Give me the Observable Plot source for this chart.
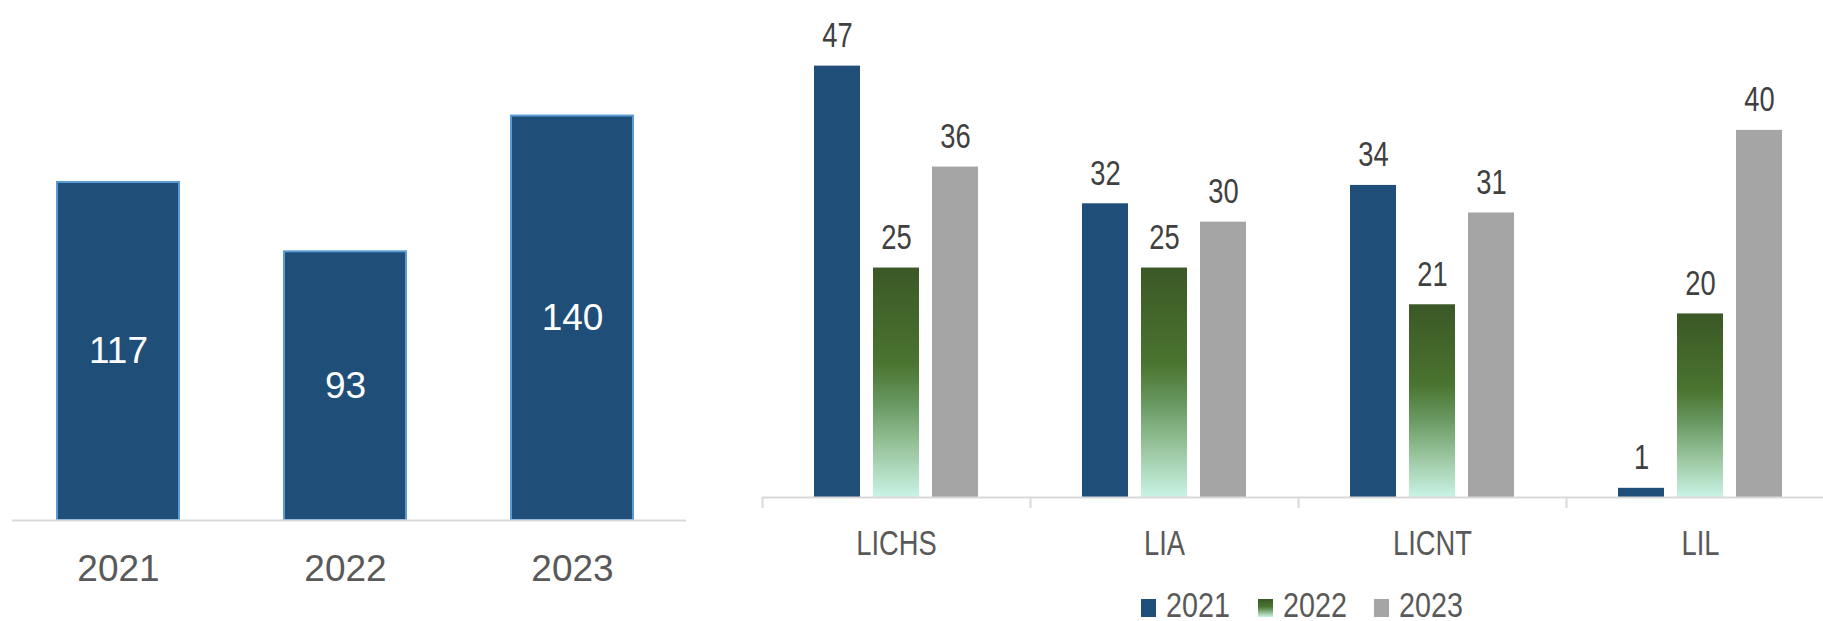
<!DOCTYPE html>
<html>
<head>
<meta charset="utf-8">
<script src="https://cdn.jsdelivr.net/npm/d3@7"></script>
<script src="https://cdn.jsdelivr.net/npm/@observablehq/plot@0.6"></script>
<style>
  html, body { margin: 0; padding: 0; background: #fff; }
  body { width: 1823px; height: 621px; overflow: hidden; position: relative; }
  svg { max-width: none !important; }
  #left { position: absolute; left: 0; top: 0; width: 700px; }
  #right { position: absolute; left: 740px; top: 0; width: 1110px; }
  #legend {
    position: absolute; left: 754px; top: 588px; width: 1096px;
    text-align: center; white-space: nowrap;
    font-family: "Liberation Sans", Arial, sans-serif;
    font-size: 35px; line-height: 33px; color: #595959;
  }
  #legend .item { display: inline-block; margin: 0 14px; }
  #legend .sw { display: inline-block; width: 15px; height: 18px; margin-right: 10px; vertical-align: baseline; }
  #legend .tx { display: inline-block; transform: scaleX(0.82); transform-origin: 0 50%; }
</style>
</head>
<body>
<div id="left"></div>
<div id="right"></div>
<div id="legend"></div>
<script>
// ---- data ----
const leftYears = ["2021", "2022", "2023"];
const leftTotals = [117, 93, 140];

const categories = ["LICHS", "LIA", "LICNT", "LIL"];
const seriesNames = ["2021", "2022", "2023"];
const values2021 = [47, 32, 34, 1];
const values2022 = [25, 25, 21, 20];
const values2023 = [36, 30, 31, 40];

const seriesFills = ["#1f4e79", "url(#grad2022)", "#a5a5a5"];
const legendSwatches = [
  "#1f4e79",
  "linear-gradient(#3b5826 0%, #4a7430 42%, #6a9a63 60%, #9dc8a2 80%, #c9f3e5 100%)",
  "#a5a5a5"
];

// ---- tables built from arrays ----
const leftData = leftYears.map((y, i) => ({year: y, value: leftTotals[i]}));
const seriesValues = [values2021, values2022, values2023];
const rightData = [];
categories.forEach((c, ci) => {
  seriesNames.forEach((s, si) => {
    rightData.push({category: c, series: s, value: seriesValues[si][ci], fill: seriesFills[si]});
  });
});

// ---- left chart ----
const leftChart = Plot.plot({
  width: 700, height: 600,
  marginTop: 0, marginLeft: 12, marginRight: 14, marginBottom: 80,
  x: {domain: leftYears, paddingInner: 0.463, paddingOuter: 0.2155, align: 0.463, label: null},
  y: {domain: [0, 180], axis: null},
  style: {fontFamily: "'Liberation Sans', Arial, sans-serif", color: "#595959", background: "transparent"},
  marks: [
    Plot.barY(leftData, {x: "year", y: "value", fill: "#1f4e79", stroke: "#5b9bd5", strokeWidth: 2}),
    Plot.text(leftData, {x: "year", y: d => d.value / 2, text: d => String(d.value), fill: "white", fontSize: 37, lineAnchor: "middle"}),
    Plot.ruleY([0], {stroke: "#d9d9d9", strokeWidth: 2}),
    Plot.axisX({tickSize: 0, tickPadding: 34, fontSize: 37, fill: "#595959", label: null})
  ]
});
document.getElementById("left").appendChild(leftChart);

// ---- right chart ----
const rW = 1110, rML = 22, rMR = 16;
const fxStep = (rW - rML - rMR) / categories.length;
const rightChart = Plot.plot({
  width: rW, height: 590,
  marginTop: 0, marginLeft: rML, marginRight: rMR, marginBottom: 93,
  fx: {domain: categories, padding: 0, label: null},
  x: {domain: seriesNames, paddingInner: 0.218, paddingOuter: 0.853, axis: null},
  y: {domain: [0, 54.15], axis: null},
  color: {type: "identity"},
  style: {fontFamily: "'Liberation Sans', Arial, sans-serif", color: "#595959", background: "transparent"},
  marks: [
    Plot.barY(rightData, {fx: "category", x: "series", y: "value", fill: "fill"}),
    Plot.text(rightData, {fx: "category", x: "series", y: "value", text: d => String(d.value), dy: -19, lineAnchor: "bottom", fontSize: 35, fill: "#404040"}),
    Plot.ruleY([0], {stroke: "#d9d9d9", strokeWidth: 2}),
    Plot.axisFx({anchor: "bottom", tickSize: 0, tickPadding: 33, fontSize: 35, fill: "#595959", label: null}),
    Plot.axisFx({anchor: "bottom", tickSize: 11, tickFormat: () => "", label: null, dx: -fxStep / 2, stroke: "#d9d9d9", strokeWidth: 2})
  ]
});
rightChart.insertAdjacentHTML("afterbegin",
  '<defs><linearGradient id="grad2022" x1="0" y1="0" x2="0" y2="1">' +
  '<stop offset="0" stop-color="#3b5826"/>' +
  '<stop offset="0.42" stop-color="#4a7430"/>' +
  '<stop offset="0.6" stop-color="#6a9a63"/>' +
  '<stop offset="0.8" stop-color="#9dc8a2"/>' +
  '<stop offset="1" stop-color="#c9f3e5"/>' +
  '</linearGradient></defs>');
document.getElementById("right").appendChild(rightChart);

// condensed look of the right chart's typeface
rightChart.querySelectorAll("text").forEach(t => {
  const w = t.getComputedTextLength();
  if (w > 0) {
    t.setAttribute("textLength", (w * 0.78).toFixed(2));
    t.setAttribute("lengthAdjust", "spacingAndGlyphs");
  }
});

// ---- legend ----
const legend = document.getElementById("legend");
const texts = [];
seriesNames.forEach((s, i) => {
  const item = document.createElement("span");
  item.className = "item";
  const sw = document.createElement("span");
  sw.className = "sw";
  sw.style.background = legendSwatches[i];
  const tx = document.createElement("span");
  tx.className = "tx";
  tx.textContent = s;
  item.appendChild(sw);
  item.appendChild(tx);
  legend.appendChild(item);
  texts.push(tx);
});
texts.forEach(tx => {
  const w = tx.offsetWidth;
  tx.style.marginRight = (-(1 - 0.82) * w).toFixed(2) + "px";
});
</script>
</body>
</html>
